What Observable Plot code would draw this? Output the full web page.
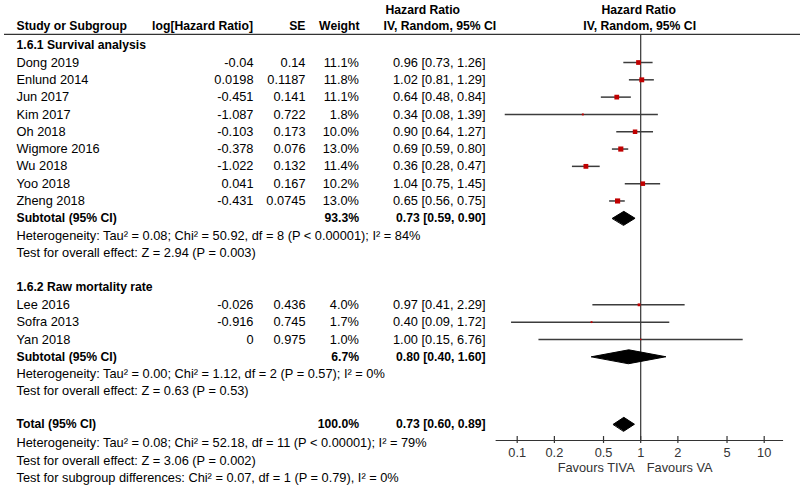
<!DOCTYPE html>
<html>
<head>
<meta charset="utf-8">
<script src="https://cdn.jsdelivr.net/npm/d3@7"></script>
<script src="https://cdn.jsdelivr.net/npm/@observablehq/plot@0.6"></script>
<style>
  html, body { margin: 0; padding: 0; background: #fff; }
  #chart { width: 800px; height: 488px; overflow: hidden; }
</style>
</head>
<body>
<div id="chart"></div>
<script>
// ---------------- DATA ----------------
const headerLabels = ["Study or Subgroup", "log[Hazard Ratio]", "SE", "Weight"];
const effectHeader = ["Hazard Ratio", "IV, Random, 95% CI"];

const group1Title = "1.6.1 Survival analysis";
const group1Studies = ["Dong 2019", "Enlund 2014", "Jun 2017", "Kim 2017", "Oh 2018", "Wigmore 2016", "Wu 2018", "Yoo 2018", "Zheng 2018"];
const group1LogHR = ["-0.04", "0.0198", "-0.451", "-1.087", "-0.103", "-0.378", "-1.022", "0.041", "-0.431"];
const group1SE = ["0.14", "0.1187", "0.141", "0.722", "0.173", "0.076", "0.132", "0.167", "0.0745"];
const group1Weight = [11.1, 11.8, 11.1, 1.8, 10.0, 13.0, 11.4, 10.2, 13.0];
const group1HR = [0.96, 1.02, 0.64, 0.34, 0.90, 0.69, 0.36, 1.04, 0.65];
const group1Lo = [0.73, 0.81, 0.48, 0.08, 0.64, 0.59, 0.28, 0.75, 0.56];
const group1Hi = [1.26, 1.29, 0.84, 1.39, 1.27, 0.80, 0.47, 1.45, 0.75];
const group1Subtotal = {label: "Subtotal (95% CI)", weight: 93.3, hr: 0.73, lo: 0.59, hi: 0.90};
const group1Notes = [
  "Heterogeneity: Tau\u00B2 = 0.08; Chi\u00B2 = 50.92, df = 8 (P < 0.00001); I\u00B2 = 84%",
  "Test for overall effect: Z = 2.94 (P = 0.003)"
];

const group2Title = "1.6.2 Raw mortality rate";
const group2Studies = ["Lee 2016", "Sofra 2013", "Yan 2018"];
const group2LogHR = ["-0.026", "-0.916", "0"];
const group2SE = ["0.436", "0.745", "0.975"];
const group2Weight = [4.0, 1.7, 1.0];
const group2HR = [0.97, 0.40, 1.00];
const group2Lo = [0.41, 0.09, 0.15];
const group2Hi = [2.29, 1.72, 6.76];
const group2Subtotal = {label: "Subtotal (95% CI)", weight: 6.7, hr: 0.80, lo: 0.40, hi: 1.60};
const group2Notes = [
  "Heterogeneity: Tau\u00B2 = 0.00; Chi\u00B2 = 1.12, df = 2 (P = 0.57); I\u00B2 = 0%",
  "Test for overall effect: Z = 0.63 (P = 0.53)"
];

const total = {label: "Total (95% CI)", weight: 100.0, hr: 0.73, lo: 0.60, hi: 0.89};
const totalNotes = [
  "Heterogeneity: Tau\u00B2 = 0.08; Chi\u00B2 = 52.18, df = 11 (P < 0.00001); I\u00B2 = 79%",
  "Test for overall effect: Z = 3.06 (P = 0.002)",
  "Test for subgroup differences: Chi\u00B2 = 0.07, df = 1 (P = 0.79), I\u00B2 = 0%"
];

const tickValues = [0.1, 0.2, 0.5, 1, 2, 5, 10];
const favoursLeft = "Favours TIVA";
const favoursRight = "Favours VA";

// ---------------- LAYOUT (rows) ----------------
const studies = [], summaries = [], groupTitles = [], notes = [];
let r = 0;
function addGroup(title, names, logs, ses, ws, hrs, los, his, sub, noteLines) {
  groupTitles.push({row: r++, label: title});
  names.forEach((n, i) => studies.push({row: r++, name: n, log: logs[i], se: ses[i], weight: ws[i], hr: hrs[i], lo: los[i], hi: his[i]}));
  summaries.push({row: r++, ...sub});
  noteLines.forEach(t => notes.push({row: r++, label: t}));
  r++;
}
addGroup(group1Title, group1Studies, group1LogHR, group1SE, group1Weight, group1HR, group1Lo, group1Hi, group1Subtotal, group1Notes);
addGroup(group2Title, group2Studies, group2LogHR, group2SE, group2Weight, group2HR, group2Lo, group2Hi, group2Subtotal, group2Notes);
summaries.push({row: r++ - 0.1, ...total});
totalNotes.forEach(t => notes.push({row: r++, label: t}));

const HEADER_ROW1 = -2.0, HEADER_ROW2 = -1.08, HEADER_LINE = -0.62, AXIS_ROW = 22.84;
const ciText = d => `${d.hr.toFixed(2)} [${d.lo.toFixed(2)}, ${d.hi.toFixed(2)}]`;
const pct = d => `${d.weight.toFixed(1)}%`;

const diamondH = 0.4;
const diamonds = summaries.flatMap((d, i) => [
  {id: i, x: d.lo, y: d.row},
  {id: i, x: d.hr, y: d.row - diamondH},
  {id: i, x: d.hi, y: d.row},
  {id: i, x: d.hr, y: d.row + diamondH}
]);

const FONT = '"Liberation Sans", Arial, sans-serif';
const FS = 12.8, FSB = 12.2;
const lineColor = "#333";

const col = {name: 16, log: 253, se: 305, weight: 358.5, ci: 485};
const txt = (data, opts) => Plot.text(data, {frameAnchor: "left", fill: "#000", fontSize: FS, ...opts});
const bold = (data, opts) => txt(data, {fontWeight: "bold", fontSize: FSB, ...opts});

const chart = Plot.plot({
  width: 800,
  height: 488,
  margin: 0,
  style: {fontFamily: FONT, background: "#fff", overflow: "visible"},
  x: {type: "log", domain: [0.1, 10], range: [516.7, 763.7], axis: null},
  y: {domain: [0, 25], range: [44.7, 477.4], axis: null},
  r: {domain: [0, 13], range: [0, 2.9]},
  marks: [
    // headers
    bold([headerLabels[0]], {y: HEADER_ROW2, dx: col.name, textAnchor: "start", text: d => d}),
    bold([headerLabels[1]], {y: HEADER_ROW2, dx: col.log - 0.5, textAnchor: "end", text: d => d}),
    bold([headerLabels[2]], {y: HEADER_ROW2, dx: col.se, textAnchor: "end", text: d => d}),
    bold([headerLabels[3]], {y: HEADER_ROW2, dx: col.weight + 0.5, textAnchor: "end", text: d => d}),
    bold([effectHeader[0]], {y: HEADER_ROW1, dx: 385, textAnchor: "start", text: d => d}),
    bold([effectHeader[1]], {y: HEADER_ROW2, dx: 383, textAnchor: "start", text: d => d}),
    Plot.text([effectHeader[0]], {x: () => 1, y: HEADER_ROW1, dx: -2, text: d => d, fontWeight: "bold", fontSize: FSB, fill: "#000"}),
    Plot.text([effectHeader[1]], {x: () => 1, y: HEADER_ROW2, dx: -1, text: d => d, fontWeight: "bold", fontSize: FSB, fill: "#000"}),
    Plot.ruleY([HEADER_LINE], {stroke: lineColor, strokeWidth: 1.2, insetLeft: 4}),

    // group titles
    bold(groupTitles, {y: "row", dx: col.name, textAnchor: "start", text: "label"}),

    // study rows
    txt(studies, {y: "row", dx: col.name, textAnchor: "start", text: "name"}),
    txt(studies, {y: "row", dx: col.log, textAnchor: "end", text: "log"}),
    txt(studies, {y: "row", dx: col.se, textAnchor: "end", text: "se"}),
    txt(studies, {y: "row", dx: col.weight, textAnchor: "end", text: pct}),
    txt(studies, {y: "row", dx: col.ci, textAnchor: "end", text: ciText}),

    // summary rows
    bold(summaries, {y: "row", dx: col.name, textAnchor: "start", text: "label"}),
    bold(summaries, {y: "row", dx: col.weight, textAnchor: "end", text: pct}),
    bold(summaries, {y: "row", dx: col.ci, textAnchor: "end", text: ciText}),

    // notes
    txt(notes, {y: "row", dx: col.name, textAnchor: "start", text: "label"}),

    // null line
    Plot.ruleX([1], {y1: HEADER_LINE, y2: AXIS_ROW, stroke: lineColor, strokeWidth: 1.2}),

    // confidence intervals and squares
    Plot.ruleY(studies, {y: "row", x1: "lo", x2: "hi", stroke: "#3c3c3c", strokeWidth: 1.5}),
    Plot.dot(studies, {x: "hr", y: "row", r: "weight", symbol: "square", fill: "#c00000", stroke: null}),

    // diamonds
    Plot.line(diamonds, {x: "x", y: "y", z: "id", curve: "linear-closed", fill: "#000", stroke: "#000", strokeWidth: 1}),

    // axis
    Plot.ruleY([AXIS_ROW], {x1: () => 0.0675, x2: () => 14.35, stroke: lineColor, strokeWidth: 1.2}),
    Plot.ruleX(tickValues, {x: d => d, y1: AXIS_ROW - 0.23, y2: AXIS_ROW + 0.17, stroke: lineColor, strokeWidth: 1.2}),
    Plot.text(tickValues, {x: d => d, y: AXIS_ROW, dy: 12, text: d => String(d), fontSize: FS, fill: "#333"}),
    Plot.text([favoursLeft], {x: () => 1, y: AXIS_ROW, dy: 27, dx: -6, textAnchor: "end", text: d => d, fontSize: FS, fill: "#333"}),
    Plot.text([favoursRight], {x: () => 1, y: AXIS_ROW, dy: 27, dx: 6, textAnchor: "start", text: d => d, fontSize: FS, fill: "#333"})
  ]
});

document.getElementById("chart").appendChild(chart);
</script>
</body>
</html>
